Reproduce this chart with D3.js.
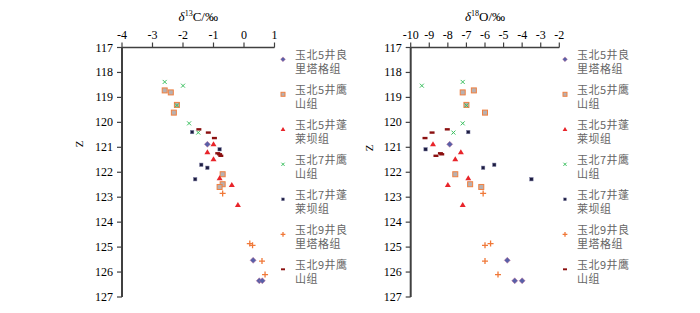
<!DOCTYPE html>
<html>
<head>
<meta charset="utf-8">
<script src="https://cdn.jsdelivr.net/npm/d3@7"></script>
<style>
body{margin:0;background:#fff;}
</style>
</head>
<body>
<div id="chart"></div>
<script>
let width = 700;
let height = 313;

// series names (legend)
const seriesNames = ['玉北5井良里塔格组','玉北5井鹰山组','玉北5井蓬莱坝组','玉北7井鹰山组','玉北7井蓬莱坝组','玉北9井良里塔格组','玉北9井鹰山组'];
const legendLines = [['玉北5井良','里塔格组'],['玉北5井鹰','山组'],['玉北5井蓬','莱坝组'],['玉北7井鹰','山组'],['玉北7井蓬','莱坝组'],['玉北9井良','里塔格组'],['玉北9井鹰','山组']];

// depth Z, d13C, d18O for each series
const z_yb5_l = [120.88, 125.53, 126.35, 126.35];
const c_yb5_l = [-1.2, 0.3, 0.5, 0.6];
const o_yb5_l = [-7.9, -4.8, -4.4, -4.0];

const z_yb5_y = [118.72, 118.8, 119.3, 119.61, 122.08, 122.48, 122.59];
const c_yb5_y = [-2.6, -2.4, -2.2, -2.3, -0.7, -0.7, -0.8];
const o_yb5_y = [-6.6, -7.2, -7.0, -6.0, -7.6, -6.8, -6.2];

const z_yb5_p = [120.88, 121.2, 121.48, 122.24, 122.51, 123.31];
const c_yb5_p = [-1.0, -1.2, -1.0, -0.8, -0.4, -0.2];
const o_yb5_p = [-8.8, -7.3, -7.6, -6.9, -8.0, -7.2];

const z_yb7_y = [118.38, 118.53, 119.32, 120.04, 120.41];
const c_yb7_y = [-2.6, -2.0, -2.2, -1.8, -1.5];
const o_yb7_y = [-7.2, -9.4, -7.0, -7.2, -7.7];

const z_yb7_p = [120.39, 121.08, 121.7, 121.82, 122.28];
const c_yb7_p = [-1.7, -0.8, -1.4, -1.2, -1.6];
const o_yb7_p = [-6.9, -9.2, -5.5, -6.1, -3.5];

const z_yb9_l = [122.85, 124.86, 124.93, 125.56, 126.1];
const c_yb9_l = [-0.7, 0.19, 0.28, 0.59, 0.69];
const o_yb9_l = [-6.1, -5.7, -6.0, -6.0, -5.3];

const z_yb9_y = [120.28, 120.41, 120.63, 121.24, 121.28, 121.34];
const c_yb9_y = [-1.48, -1.17, -0.97, -0.86, -0.8, -0.76];
const o_yb9_y = [-8.03, -8.85, -9.23, -8.4, -8.33, -8.64];

const cTicks = [-4,-3,-2,-1,0,1];
const oTicks = [-10,-9,-8,-7,-6,-5,-4,-3,-2];
const zTicks = [117,118,119,120,121,122,123,124,125,126,127];

const seriesZ = [z_yb5_l,z_yb5_y,z_yb5_p,z_yb7_y,z_yb7_p,z_yb9_l,z_yb9_y];
const seriesC = [c_yb5_l,c_yb5_y,c_yb5_p,c_yb7_y,c_yb7_p,c_yb9_l,c_yb9_y];
const seriesO = [o_yb5_l,o_yb5_y,o_yb5_p,o_yb7_y,o_yb7_p,o_yb9_l,o_yb9_y];

const markers = ['diamond','square','triangle','x','dot','plus','dash'];

let svg = d3.select('#chart')
    .append('svg')
    .attr('width',width)
    .attr('height',height);

const yScale = d3.scaleLinear().domain([117,127]).range([47.5,297]);

function drawMarker(g, type, x, y, s){
    if(type==='diamond'){
        g.append('path')
            .attr('d','M'+x+','+(y-3*s)+'L'+(x+3*s)+','+y+'L'+x+','+(y+3*s)+'L'+(x-3*s)+','+y+'Z')
            .attr('fill','#5860a8')
            .attr('stroke','#c07098')
            .attr('stroke-width',0.5);
    }
    else if(type==='square'){
        g.append('rect')
            .attr('x',x-2.5*s).attr('y',y-2.5*s)
            .attr('width',5*s).attr('height',5*s)
            .attr('fill','#b8b0b0')
            .attr('stroke','#f08040')
            .attr('stroke-width',1);
    }
    else if(type==='triangle'){
        g.append('path')
            .attr('d','M'+x+','+(y-3*s)+'L'+(x+3*s)+','+(y+2*s)+'L'+(x-3*s)+','+(y+2*s)+'Z')
            .attr('fill','#e8242a');
    }
    else if(type==='x'){
        g.append('path')
            .attr('d','M'+(x-2*s)+','+(y-2*s)+'L'+(x+2*s)+','+(y+2*s)+'M'+(x+2*s)+','+(y-2*s)+'L'+(x-2*s)+','+(y+2*s))
            .attr('stroke','#3cc060')
            .attr('stroke-width',1);
    }
    else if(type==='dot'){
        g.append('rect')
            .attr('x',x-1.7*s).attr('y',y-1.7*s)
            .attr('width',3.4*s).attr('height',3.4*s)
            .attr('fill','#1c1c40')
            .attr('stroke','#7a7aa0')
            .attr('stroke-width',0.5);
    }
    else if(type==='plus'){
        g.append('path')
            .attr('d','M'+(x-3*s)+','+y+'L'+(x+3*s)+','+y+'M'+x+','+(y-3*s)+'L'+x+','+(y+3*s))
            .attr('stroke','#f07838')
            .attr('stroke-width',1.3);
    }
    else if(type==='dash'){
        g.append('rect')
            .attr('x',x-2.5*s).attr('y',y-1.2*s)
            .attr('width',5*s).attr('height',2.4*s)
            .attr('fill','#8b1010');
    }
}

function panel(xScale, ticks, vals, title, sup, zx, zy, legendX){
    let g = svg.append('g');

    // top axis
    g.append('line')
        .attr('x1',xScale.range()[0]).attr('x2',xScale.range()[1])
        .attr('y1',yScale(117)).attr('y2',yScale(117))
        .attr('stroke','#404040').attr('stroke-width',1.5);
    ticks.forEach(function(t){
        g.append('line')
            .attr('x1',xScale(t)).attr('x2',xScale(t))
            .attr('y1',yScale(117)).attr('y2',yScale(117)-5)
            .attr('stroke','#404040').attr('stroke-width',1.2);
        g.append('text')
            .text(t)
            .attr('x',xScale(t))
            .attr('y',39)
            .attr('text-anchor','middle')
            .style('font-family','"Liberation Serif", serif')
            .style('font-size','12px')
            .attr('fill','#000');
    });

    // left axis
    let x0 = xScale.range()[0];
    g.append('line')
        .attr('x1',x0).attr('x2',x0)
        .attr('y1',yScale(117)).attr('y2',yScale(127))
        .attr('stroke','#404040').attr('stroke-width',2);
    zTicks.forEach(function(t){
        g.append('line')
            .attr('x1',x0-5).attr('x2',x0)
            .attr('y1',yScale(t)).attr('y2',yScale(t))
            .attr('stroke','#404040').attr('stroke-width',1.2);
        g.append('text')
            .text(t)
            .attr('x',x0-9)
            .attr('y',yScale(t)+4)
            .attr('text-anchor','end')
            .style('font-family','"Liberation Serif", serif')
            .style('font-size','12px')
            .attr('fill','#000');
    });

    // titles
    let tt = g.append('text')
        .attr('x',(xScale.range()[0]+xScale.range()[1])/2)
        .attr('y',21)
        .attr('text-anchor','middle')
        .style('font-family','"Liberation Serif", serif')
        .style('font-size','13px');
    tt.append('tspan').text('δ').style('font-style','italic');
    tt.append('tspan').text(sup).attr('dy',-5).style('font-size','8px');
    tt.append('tspan').text(title).attr('dy',5);

    g.append('text')
        .text('Z')
        .attr('transform','translate('+zx+','+zy+') rotate(-90)')
        .attr('text-anchor','middle')
        .style('font-family','"Liberation Serif", serif')
        .style('font-size','11px');

    // points
    let pts = g.append('g');
    seriesZ.forEach(function(zs, i){
        zs.forEach(function(z, j){
            drawMarker(pts, markers[i], xScale(vals[i][j]), yScale(z), 1);
        });
    });

    // legend
    let lg = g.append('g');
    legendLines.forEach(function(lines, i){
        let y = 59.3 + i*35;
        drawMarker(lg, markers[i], legendX, y, 0.8);
        lines.forEach(function(l, k){
            lg.append('text')
                .text(l)
                .attr('x',legendX+12)
                .attr('y',y-0.5 + k*14.5)
                .style('font-family','"Noto Sans CJK SC", sans-serif')
                .style('font-size','11px')
                .style('letter-spacing','0.5px')
                .attr('fill','#666');
        });
    });
}

const xC = d3.scaleLinear().domain([-4,1]).range([122,274.5]);
const xO = d3.scaleLinear().domain([-10,-2]).range([410.7,559.3]);

panel(xC, cTicks, seriesC, 'C/‰', '13', 83, 144, 283);
panel(xO, oTicks, seriesO, 'O/‰', '18', 373, 148, 565);
</script>
</body>
</html>
